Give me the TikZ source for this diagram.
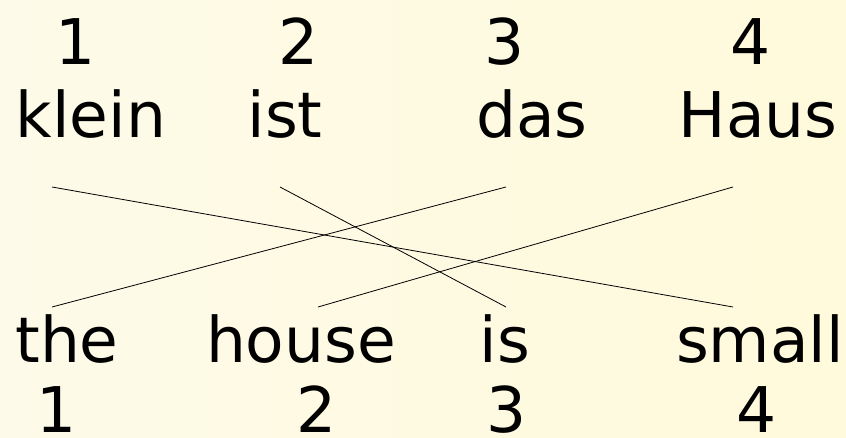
\documentclass[tikz,border=0pt]{standalone}
\usepackage{fontspec}
\setmainfont{DejaVu Sans}

\definecolor{paperleft}{RGB}{253,250,233}
\definecolor{paperright}{RGB}{255,250,219}

\begin{document}
\begin{tikzpicture}[x=1pt, y=-1pt,
    word/.style={anchor=base, inner sep=0pt, font=\fontsize{63}{63}\selectfont},
    align line/.style={line width=0.8pt}]
    \useasboundingbox (0,0) rectangle (846,438);
    \shade[left color=paperleft, right color=paperright] (0,0) rectangle (846,438);

    % source sentence with positions
    \node[word] (src1) at (76,65) {1};
    \node[word] (src2) at (299,65) {2};
    \node[word] (src3) at (505,65) {3};
    \node[word] (src4) at (751,65) {4};
    \node[word] (klein) at (91,138) {klein};
    \node[word] (ist) at (285,138) {ist};
    \node[word] (das) at (532,138) {das};
    \node[word] (Haus) at (758,138) {Haus};

    % target sentence with positions
    \node[word] (the) at (67,362) {the};
    \node[word] (house) at (301,362) {house};
    \node[word] (is) at (505,362) {is};
    \node[word] (small) at (760,362) {small};
    \node[word] (tgt1) at (57,432) {1};
    \node[word] (tgt2) at (317,432) {2};
    \node[word] (tgt3) at (507,432) {3};
    \node[word] (tgt4) at (757,432) {4};

    % ends of the alignment links
    \coordinate (klein-end) at (52,187);
    \coordinate (ist-end) at (280,187);
    \coordinate (das-end) at (506,187);
    \coordinate (Haus-end) at (733,187);
    \coordinate (the-end) at (52,307);
    \coordinate (house-end) at (318,307);
    \coordinate (is-end) at (506,307);
    \coordinate (small-end) at (733,307);

    \draw[align line] (klein-end) -- (small-end);
    \draw[align line] (ist-end) -- (is-end);
    \draw[align line] (das-end) -- (the-end);
    \draw[align line] (Haus-end) -- (house-end);
\end{tikzpicture}
\end{document}
